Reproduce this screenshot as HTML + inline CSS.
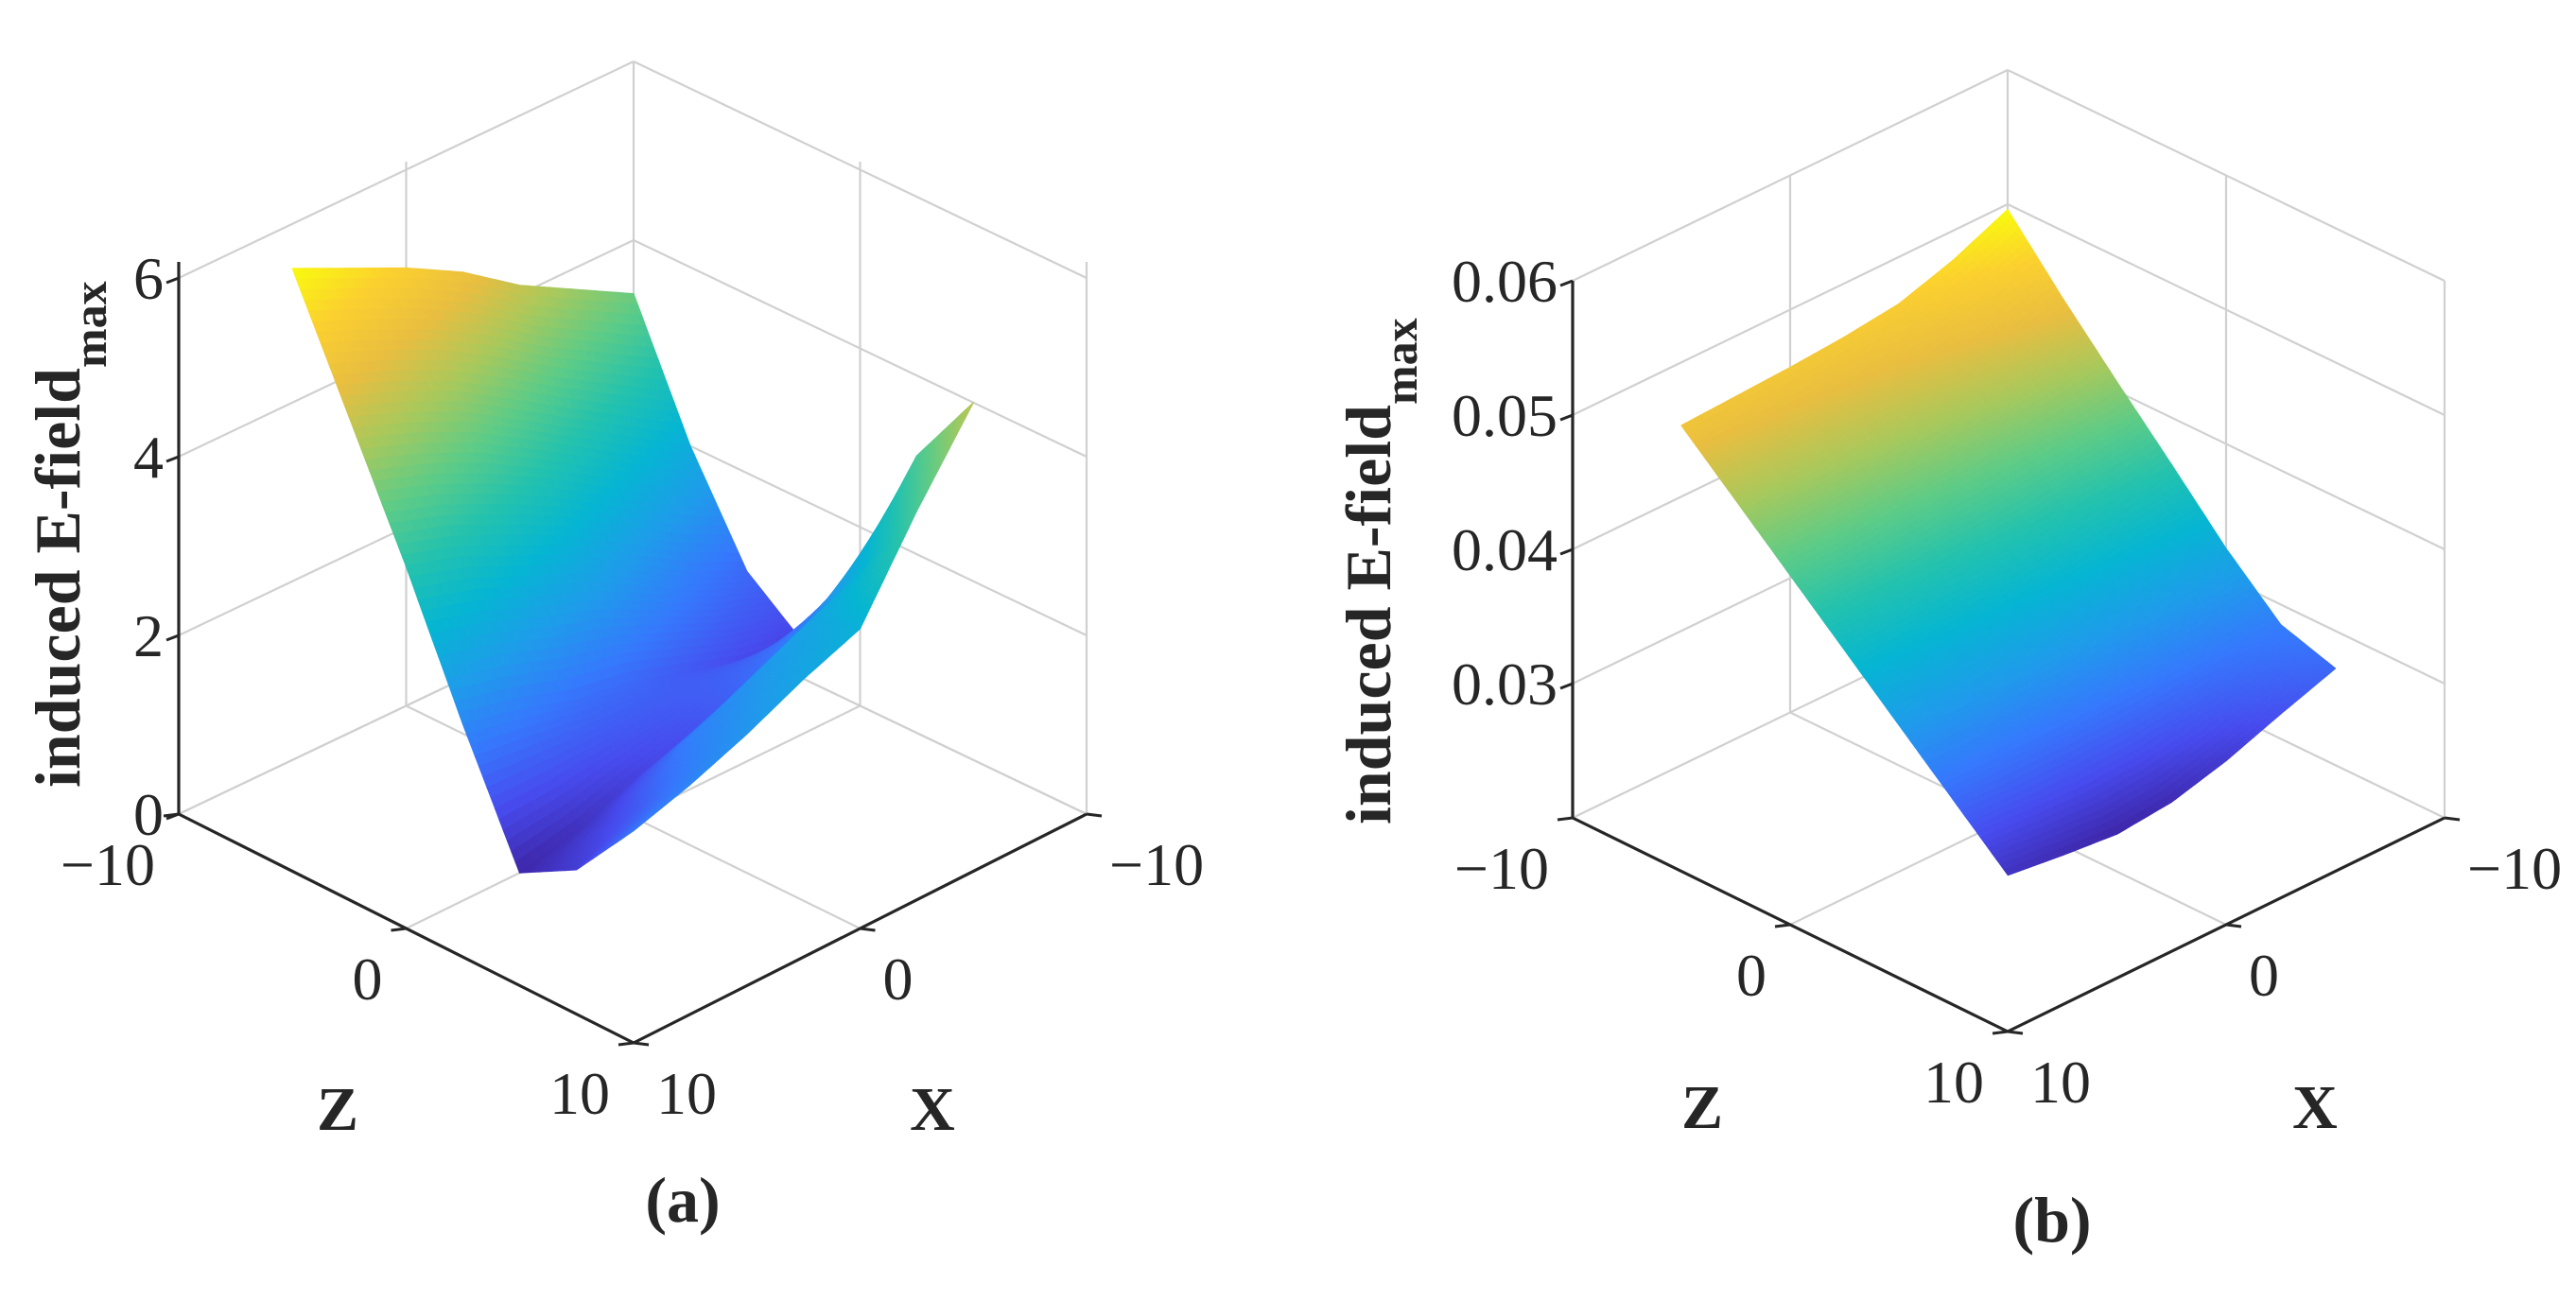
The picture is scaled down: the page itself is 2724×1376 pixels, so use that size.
<!DOCTYPE html>
<html><head><meta charset="utf-8"><style>
html,body{margin:0;padding:0;background:#fff;}
svg{display:block;}
text{font-family:"Liberation Serif","Times New Roman",serif;fill:#262626;}
</style></head><body>
<svg id="fig" xmlns="http://www.w3.org/2000/svg" width="2724" height="1376" viewBox="0 0 2724 1376">
<rect x="0" y="0" width="2724" height="1376" fill="#fff"/>
<g id="panelA"></g>
<g id="panelB"></g>
<text x="722" y="1292" font-size="68" font-weight="bold" text-anchor="middle">(a)</text>
<text x="2170" y="1313" font-size="68" font-weight="bold" text-anchor="middle">(b)</text>
<text transform="translate(84,833) rotate(-90)" font-size="68" font-weight="bold">induced E-field<tspan font-size="50" dy="28">max</tspan></text>
<text transform="translate(1470,872) rotate(-90)" font-size="68" font-weight="bold">induced E-field<tspan font-size="50" dy="28">max</tspan></text>
<text x="357" y="1195" font-size="66" font-weight="bold" text-anchor="middle">Z</text>
<text x="986" y="1195" font-size="66" font-weight="bold" text-anchor="middle">X</text>
<text x="1800" y="1193" font-size="66" font-weight="bold" text-anchor="middle">Z</text>
<text x="2448" y="1193" font-size="66" font-weight="bold" text-anchor="middle">X</text>
</svg>
<script>
const gridX = [-10, -7.5, -5, -2.5, 0, 2.5, 5];
const gridZ = [-10, -7.5, -5, -2.5, 0, 2.5, 5];
// rows: Z = -10 .. 5 ; columns: X = -10 .. 5
const valuesA = [
  [3.4, 3.75, 4.1, 4.55, 4.9, 5.2, 5.5],
  [2.0, 2.4, 2.8, 3.2, 3.6, 3.9, 4.15],
  [0.9, 1.2, 1.6, 2.0, 2.3, 2.6, 2.8],
  [0.4, 0.5, 0.7, 0.9, 1.0, 1.2, 1.35],
  [1.6, 1.2, 0.9, 0.6, 0.4, 0.15, 0.0],
  [3.1, 2.1, 1.8, 1.5, 1.2, 0.7, 0.35],
  [4.0, 3.1, 2.1, 1.85, 1.55, 1.3, 1.1]
];
const valuesB = [
  [0.0496, 0.0478, 0.0465, 0.0460, 0.0457, 0.0455, 0.0453],
  [0.0450, 0.0440, 0.0432, 0.0427, 0.0423, 0.0420, 0.0417],
  [0.0407, 0.0400, 0.0394, 0.0390, 0.0386, 0.0383, 0.0381],
  [0.0365, 0.0360, 0.0356, 0.0352, 0.0349, 0.0347, 0.0345],
  [0.0322, 0.0318, 0.0315, 0.0313, 0.0311, 0.0310, 0.0309],
  [0.0285, 0.0280, 0.0276, 0.0273, 0.0272, 0.0272, 0.0273],
  [0.0272, 0.0258, 0.0243, 0.0232, 0.0228, 0.0232, 0.0237]
];
const eTicksA = [0, 2, 4, 6];
const eTickLabelsA = ['0', '2', '4', '6'];
const eTicksB = [0.03, 0.04, 0.05, 0.06];
const eTickLabelsB = ['0.03', '0.04', '0.05', '0.06'];
const axisTicks = [-10, 0, 10];
const axisTickLabels = ['\u221210', '0', '10'];

const NS = 'http://www.w3.org/2000/svg';
const parula = [[0.2422,0.1504,0.6603],[0.2805,0.2951,0.9335],[0.2116,0.4727,0.9907],[0.1198,0.6121,0.9176],[0.0216,0.7102,0.8251],[0.1398,0.7601,0.6824],[0.3712,0.7985,0.5254],[0.6598,0.7861,0.3618],[0.9116,0.7447,0.2532],[0.9849,0.8142,0.1859],[0.9763,0.9831,0.0538]];
function cmap(t){
  t = Math.max(0, Math.min(1, t));
  const p = t * (parula.length - 1), i = Math.min(parula.length - 2, Math.floor(p)), f = p - i;
  const c = parula[i].map((a, k) => Math.round(255 * (a + (parula[i+1][k] - a) * f)));
  return 'rgb(' + c.join(',') + ')';
}
function mk(tag, attrs){
  const el = document.createElementNS(NS, tag);
  for (const k in attrs) el.setAttribute(k, attrs[k]);
  return el;
}

function drawPanel(g, cfg, values, eTicks, eLabels, prefix){
  const c = cfg;
  function proj(X, Z, E){
    const u = (Z + 10) / 20, v = (X + 10) / 20;
    const x = c.back[0]*(1-u)*(1-v) + c.right[0]*u*(1-v) + c.front[0]*u*v + c.left[0]*(1-u)*v;
    const y = c.back[1]*(1-u)*(1-v) + c.right[1]*u*(1-v) + c.front[1]*u*v + c.left[1]*(1-u)*v;
    return [x, y - (E - c.e0) * c.unit];
  }
  function line(p, q, stroke, w, name){
    const l = mk('line', {x1: p[0].toFixed(1), y1: p[1].toFixed(1), x2: q[0].toFixed(1), y2: q[1].toFixed(1), stroke: stroke, 'stroke-width': w});
    
    
    g.appendChild(l);
  }
  const grey = '#d0d0d0';
  const allE = [c.e0].concat(eTicks);
  allE.forEach(E => {
    line(proj(10, -10, E), proj(-10, -10, E), grey, 2.2, prefix + '-gridline-left-wall');
    line(proj(-10, -10, E), proj(-10, 10, E), grey, 2.2, prefix + '-gridline-right-wall');
  });
  line(proj(-10, -10, c.e0), proj(-10, -10, c.backTop), grey, 2.2, prefix + '-back-edge');
  line(proj(-10, 10, c.e0), proj(-10, 10, c.sideTop), grey, 2.2, prefix + '-right-edge');
  line(proj(0, -10, c.e0), proj(0, -10, c.backTop + (c.sideTop - c.backTop) / 2), grey, 2.2, prefix + '-gridline-x0-wall');
  line(proj(-10, 0, c.e0), proj(-10, 0, c.backTop + (c.sideTop - c.backTop) / 2), grey, 2.2, prefix + '-gridline-z0-wall');
  line(proj(-10, 0, c.e0), proj(10, 0, c.e0), grey, 2.2, prefix + '-gridline-z0-floor');
  line(proj(0, -10, c.e0), proj(0, 10, c.e0), grey, 2.2, prefix + '-gridline-x0-floor');

  let mn = Infinity, mx = -Infinity;
  values.forEach(r => r.forEach(v => { mn = Math.min(mn, v); mx = Math.max(mx, v); }));
  const polys = [];
  const n = 14;
  for (let i = 0; i < gridZ.length - 1; i++){
    for (let j = 0; j < gridX.length - 1; j++){
      const e00 = values[i][j], e01 = values[i][j+1], e10 = values[i+1][j], e11 = values[i+1][j+1];
      const ev = (s, t) => e00*(1-s)*(1-t) + e01*(1-s)*t + e10*s*(1-t) + e11*s*t;
      for (let a = 0; a < n; a++){
        for (let b = 0; b < n; b++){
          const pts = [];
          let esum = 0, dsum = 0;
          [[a,b],[a+1,b],[a+1,b+1],[a,b+1]].forEach(([sa, tb]) => {
            const s = sa / n, t = tb / n;
            const Z = gridZ[i] + (gridZ[i+1] - gridZ[i]) * s;
            const X = gridX[j] + (gridX[j+1] - gridX[j]) * t;
            const E = ev(s, t);
            esum += E; dsum += (Z + 10) / 20 + (X + 10) / 20;
            pts.push(proj(X, Z, E));
          });
          polys.push({pts: pts, e: esum / 4, d: dsum / 4});
        }
      }
    }
  }
  polys.sort((p, q) => p.d - q.d);
  const sg = mk('g', {});
  
  
  polys.forEach(p => {
    const col = cmap((p.e - mn) / (mx - mn));
    const el = mk('polygon', {points: p.pts.map(q => q[0].toFixed(1) + ',' + q[1].toFixed(1)).join(' '), fill: col, stroke: col, 'stroke-width': 1.2, 'stroke-linejoin': 'round'});
    
    
    sg.appendChild(el);
  });
  g.appendChild(sg);

  const ax = '#262626';
  line(proj(10, -10, c.e0), proj(10, -10, c.sideTop), ax, 3.2, prefix + '-e-axis-line');
  line(proj(10, -10, c.e0), proj(10, 10, c.e0), ax, 3.2, prefix + '-z-axis-line');
  line(proj(10, 10, c.e0), proj(-10, 10, c.e0), ax, 3.2, prefix + '-x-axis-line');
  eTicks.forEach((E, k) => {
    const p = proj(10, -10, E);
    line(p, [p[0] - 13, p[1] + 5], ax, 3, prefix + '-e-tick');
    const t = mk('text', {x: (p[0] - 16).toFixed(1), y: (p[1] + 22).toFixed(1), 'font-size': 64, 'text-anchor': 'end'});
    t.textContent = eLabels[k];
    
    
    g.appendChild(t);
  });
  axisTicks.forEach((val, k) => {
    const pz = proj(10, val, c.e0);
    line(pz, [pz[0] - 16, pz[1] + 2], ax, 3, prefix + '-z-tick');
    const tz = mk('text', {x: (pz[0] - 25).toFixed(1), y: (pz[1] + 75).toFixed(1), 'font-size': 64, 'text-anchor': 'end'});
    tz.textContent = axisTickLabels[k];
    
    
    g.appendChild(tz);
    const px = proj(val, 10, c.e0);
    line(px, [px[0] + 16, px[1] + 2], ax, 3, prefix + '-x-tick');
    const tx = mk('text', {x: (px[0] + 24).toFixed(1), y: (px[1] + 75).toFixed(1), 'font-size': 64, 'text-anchor': 'start'});
    tx.textContent = axisTickLabels[k];
    
    
    g.appendChild(tx);
  });
}

const cfgA = {back: [670, 632], right: [1149, 861], front: [670, 1103], left: [189, 861], e0: 0, unit: 94.5, sideTop: 6.18, backTop: 6.0};
const cfgB = {back: [2123, 642], right: [2585, 865], front: [2123, 1091], left: [1663, 865], e0: 0.02, unit: 14200, sideTop: 0.06, backTop: 0.06};
drawPanel(document.getElementById('panelA'), cfgA, valuesA, eTicksA, eTickLabelsA, 'panel-a');
drawPanel(document.getElementById('panelB'), cfgB, valuesB, eTicksB, eTickLabelsB, 'panel-b');
</script>
</body></html>
